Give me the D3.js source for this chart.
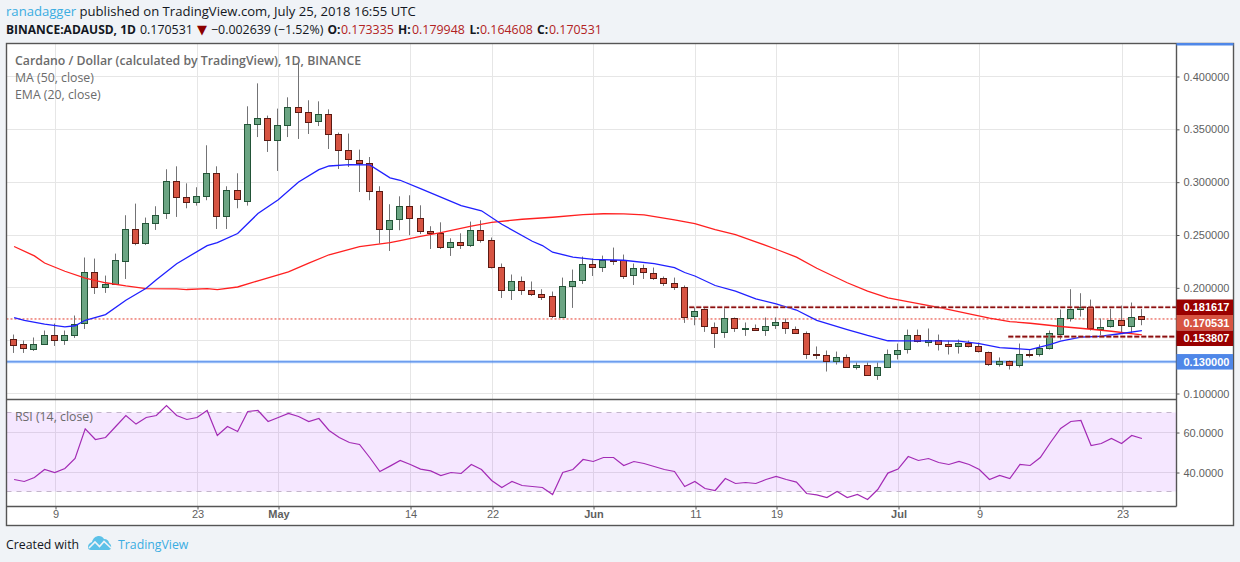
<!DOCTYPE html>
<html>
<head>
<meta charset="utf-8">
<title>ADAUSD</title>
<script src="https://cdn.jsdelivr.net/npm/d3@7"></script>
<style>
  html, body { margin: 0; padding: 0; background: #f0f3f7; }
  svg { display: block; }
  .head { font-family: "Open Sans", sans-serif; font-size: 13.1px; fill: #131722; }
  .foot { font-family: "Open Sans", sans-serif; font-size: 12.3px; fill: #131722; }
  .pane-text { font-family: "Open Sans", sans-serif; font-size: 12.3px; fill: #6b6b6b; }
  .axis text { font-family: "Liberation Sans", Arial, sans-serif; font-size: 11px; fill: #5f5f5f; }
  .axis line { stroke: #555; }
  .axis path { display: none; }
  .frame { stroke: #555; stroke-width: 1.4; fill: none; }
</style>
</head>
<body>
<svg id="chart" width="1240" height="562"></svg>
<script>
// OHLC, 5 Apr - 25 Jul 2018
const opens = [.1520,.1464,.1426,.1473,.1558,.1511,.1558,.1672,.2154,.2012,.2041,.2258,.2561,.2425,.2618,.2703,.3015,.2864,.2813,.2869,.3091,.2684,.2930,.2829,.3554,.3611,.3403,.3545,.3715,.3668,.3583,.3649,.3460,.3308,.3214,.3185,.2920,.2561,.2656,.2778,.2665,.2542,.2523,.2391,.2438,.2410,.2551,.2457,.2201,.1984,.2069,.1984,.1946,.1918,.1725,.2022,.2078,.2230,.2201,.2268,.2264,.2116,.2183,.2145,.2097,.2050,.2012,.1738,.1795,.1634,.1577,.1710,.1615,.1624,.1605,.1643,.1672,.1615,.1577,.1378,.1369,.1312,.1350,.1255,.1274,.1180,.1255,.1378,.1416,.1549,.1492,.1511,.1473,.1454,.1482,.1445,.1397,.1284,.1312,.1274,.1378,.1369,.1426,.1568,.1719,.1804,.1814,.1615,.1634,.1691,.1643,.1733];
const highs = [.1558,.1501,.1530,.1596,.1662,.1596,.1738,.2287,.2277,.2116,.2324,.2687,.2797,.2665,.2772,.3122,.3150,.2989,.2952,.3349,.3150,.2961,.3084,.3718,.3935,.3630,.3696,.3803,.4122,.3775,.3765,.3689,.3469,.3460,.3308,.3238,.2961,.2791,.2866,.2876,.2781,.2583,.2620,.2469,.2516,.2627,.2639,.2476,.2230,.2126,.2107,.2060,.1987,.1965,.2097,.2173,.2296,.2277,.2305,.2381,.2315,.2230,.2220,.2192,.2107,.2097,.2022,.1814,.1814,.1672,.1814,.1719,.1672,.1653,.1719,.1719,.1710,.1634,.1587,.1445,.1407,.1397,.1369,.1293,.1293,.1293,.1416,.1473,.1605,.1605,.1615,.1558,.1501,.1511,.1501,.1482,.1397,.1341,.1312,.1473,.1416,.1464,.1596,.1795,.1987,.1949,.1889,.1710,.1804,.1832,.1861,.1799];
const lows = [.1384,.1384,.1403,.1473,.1450,.1460,.1526,.1611,.1942,.1952,.2041,.2084,.2403,.2406,.2548,.2652,.2671,.2753,.2778,.2829,.2557,.2557,.2753,.2778,.3427,.3286,.3106,.3427,.3409,.3456,.3531,.3314,.3125,.3144,.2907,.2829,.2419,.2349,.2545,.2498,.2510,.2368,.2368,.2302,.2368,.2387,.2428,.2183,.1904,.1885,.1933,.1923,.1885,.1715,.1719,.1810,.2037,.2112,.2150,.2217,.2084,.2027,.2084,.2075,.2018,.1980,.1668,.1646,.1583,.1431,.1526,.1583,.1545,.1592,.1545,.1611,.1564,.1568,.1327,.1327,.1208,.1274,.1246,.1227,.1180,.1129,.1246,.1322,.1378,.1482,.1445,.1407,.1369,.1378,.1435,.1388,.1261,.1255,.1227,.1246,.1341,.1350,.1416,.1511,.1681,.1728,.1596,.1549,.1624,.1568,.1568,.1646];
const closes = [.1464,.1426,.1473,.1558,.1511,.1558,.1662,.2154,.2012,.2041,.2268,.2561,.2425,.2618,.2693,.3008,.2860,.2813,.2873,.3091,.2684,.2930,.2845,.3554,.3611,.3403,.3545,.3715,.3668,.3573,.3649,.3460,.3305,.3223,.3185,.2920,.2561,.2646,.2778,.2665,.2542,.2519,.2391,.2438,.2410,.2551,.2457,.2198,.1984,.2069,.1984,.1946,.1918,.1725,.2022,.2069,.2230,.2201,.2264,.2264,.2116,.2183,.2145,.2094,.2050,.2012,.1728,.1785,.1634,.1577,.1710,.1615,.1624,.1605,.1643,.1672,.1615,.1577,.1378,.1369,.1312,.1350,.1255,.1274,.1180,.1255,.1378,.1416,.1549,.1492,.1511,.1473,.1454,.1482,.1454,.1397,.1284,.1312,.1274,.1378,.1369,.1426,.1568,.1719,.1804,.1823,.1615,.1634,.1691,.1643,.1728,.1705];

// MA and EMA, read at the days where the line can be read (day = index from 5 Apr)
const maDays = [0,2,3,5,7,9,11,13,16,17,19,20,22,24,27,29,31,34,37,38,40,42,45,47,50,53,56,58,60,62,65,67,69,71,73,75,77,79,82,84,86,89,91,94,96,98,100,103,106,108,111];
const maValues = [.2391,.2302,.2235,.2157,.2091,.2048,.2018,.1993,.1990,.1984,.1993,.1984,.2008,.2067,.2152,.2233,.2313,.2391,.2428,.2447,.2488,.2523,.2583,.2620,.2649,.2668,.2693,.2701,.2699,.2691,.2644,.2608,.2551,.2504,.2436,.2365,.2291,.2185,.2048,.1968,.1906,.1850,.1814,.1753,.1714,.1681,.1665,.1634,.1608,.1589,.1554];
const emaDays = [0,1,3,5,6,7,9,11,13,14,16,19,20,22,24,26,28,30,31,33,35,37,38,40,43,44,46,48,51,52,53,55,57,60,63,65,66,67,69,71,73,75,77,79,82,84,86,87,91,93,95,97,100,102,103,105,107,109,111];
const emaValues = [.1719,.1691,.1656,.1630,.1641,.1693,.1747,.1883,.1996,.2077,.2228,.2400,.2428,.2514,.2703,.2833,.3002,.3119,.3153,.3166,.3163,.3041,.3018,.2939,.2819,.2778,.2729,.2602,.2441,.2400,.2337,.2291,.2270,.2261,.2230,.2192,.2145,.2112,.2022,.1968,.1895,.1848,.1790,.1693,.1605,.1549,.1499,.1498,.1498,.1495,.1473,.1435,.1416,.1466,.1495,.1533,.1542,.1568,.1596];

const rsiValues = [36.5,35.5,37.5,41.5,40,42,47,61.8,56.5,57.5,63,68.5,64.2,67.5,68.5,73.5,68.5,66.5,67.5,71,58.5,63,60.5,70.5,71,65.5,67.5,69.5,68,65.5,67,61,57.5,55,54,47.5,40.5,43.2,46,44,41.7,40.8,38.5,40,39.5,44,41.5,36,32.5,35.5,33.5,33,32.5,29,40,41.5,46.5,45.5,47.5,47.5,43.5,45.5,44.5,43,41.5,40.5,33,35.5,32,31,37,34.5,35,34.5,36.5,38,36.5,35.2,29.5,28.8,27.5,30.5,27.5,29,26.5,31.5,39.7,41.7,48,46,47,45,44,45.5,44,41.5,36.5,38.5,37,44,43.5,47.5,55,62,65.5,66,53.5,54.5,57,54.5,58.5,57];

const priceGrid = [0.1, 0.15, 0.2, 0.25, 0.3, 0.35, 0.4];
const priceLabels = [0.1, 0.2, 0.25, 0.3, 0.35, 0.4]; // 0.15 sits behind the level label
const rsiTicks = [40, 60];
const rsiBand = [70, 30.5];
const timeTickDays = [4, 18, 26, 39, 47, 57, 67, 75, 87, 95, 109];
const timeTickLabels = ["9", "23", "May", "14", "22", "Jun", "11", "19", "Jul", "9", "23"];
const boldLabels = ["May", "Jun", "Jul"];

const resistance = 0.181617;
const lastClose = 0.170531;
const support = 0.153807;
const floorLine = 0.13;
const resistanceStartDay = 66.5;
const supportStartDay = 97.9;

const upFill = "#6ba583", upBorder = "#225437";
const downFill = "#d75442", downBorder = "#5b1a13";
const wickColor = "#737375";
const darkRed = "#990000", blue = "#4f87e8";

const frameLeft = 6.5, frameRight = 1233.5, axisX = 1176.5, frameTop = 43.5, split = 399.5, timeY = 506.5, frameBottom = 525.5;

const svg = d3.select("#chart");

const firstDay = Date.UTC(2018, 3, 5);
const dayDate = (i) => new Date(firstDay + i * 864e5);

const x = d3.scaleUtc().domain([dayDate(0), dayDate(111)]).range([13.6, 1141.4]);
const y = d3.scaleLinear().domain([0.1, 0.4]).range([393.5, 76.5]);
const yRsi = d3.scaleLinear().domain([40, 60]).range([472.5, 432.5]);

const px = (i) => Math.floor(x(dayDate(i))) + 0.5;
const gridX = (i) => px(i) + 1;

// white panes
svg.append("rect").attr("x", frameLeft).attr("y", frameTop).attr("width", frameRight - frameLeft).attr("height", frameBottom - frameTop).attr("fill", "#fff");

// grid
const grid = svg.append("g").attr("stroke", "#e6e6e6").attr("shape-rendering", "crispEdges");
grid.selectAll(".vg").data(timeTickDays).enter().append("line")
  .attr("x1", gridX).attr("x2", gridX).attr("y1", frameTop).attr("y2", timeY);
grid.selectAll(".hg").data(priceGrid).enter().append("line")
  .attr("x1", frameLeft).attr("x2", axisX).attr("y1", (d) => y(d)).attr("y2", (d) => y(d));
grid.selectAll(".rg").data(rsiTicks).enter().append("line")
  .attr("x1", frameLeft).attr("x2", axisX).attr("y1", (d) => yRsi(d)).attr("y2", (d) => yRsi(d));

// rsi band
svg.append("rect")
  .attr("x", frameLeft).attr("width", axisX - frameLeft)
  .attr("y", yRsi(rsiBand[0])).attr("height", yRsi(rsiBand[1]) - yRsi(rsiBand[0]))
  .attr("fill", "#9915ff").attr("fill-opacity", 0.1);
svg.selectAll(".band").data(rsiBand).enter().append("line")
  .attr("x1", frameLeft).attr("x2", axisX).attr("y1", (d) => yRsi(d)).attr("y2", (d) => yRsi(d))
  .attr("stroke", "#c3b5ca").attr("stroke-dasharray", "5 5");

// horizontal levels under the candles
svg.append("line").attr("x1", frameLeft).attr("x2", axisX).attr("y1", y(floorLine)).attr("y2", y(floorLine))
  .attr("stroke", "#5b9cf6").attr("stroke-opacity", 0.45).attr("stroke-width", 3);
svg.append("line").attr("x1", frameLeft).attr("x2", axisX).attr("y1", y(floorLine)).attr("y2", y(floorLine))
  .attr("stroke", "#4f87e8").attr("stroke-width", 1);
svg.append("line").attr("x1", frameLeft).attr("x2", axisX).attr("y1", y(lastClose)).attr("y2", y(lastClose))
  .attr("stroke", "#e3392b").attr("stroke-dasharray", "2 2");

// candles
const days = d3.range(opens.length);
const candles = svg.append("g");
candles.selectAll(".wick").data(days).enter().append("line")
  .attr("x1", px).attr("x2", px)
  .attr("y1", (i) => y(highs[i])).attr("y2", (i) => y(lows[i]))
  .attr("stroke", wickColor);
candles.selectAll(".body").data(days).enter().append("rect")
  .attr("x", (i) => px(i) - 3)
  .attr("width", 6)
  .attr("y", (i) => Math.round(y(Math.max(opens[i], closes[i]))) + 0.5)
  .attr("height", (i) => Math.max(1, Math.round(Math.abs(y(opens[i]) - y(closes[i])))))
  .attr("fill", (i) => (closes[i] >= opens[i] ? upFill : downFill))
  .attr("stroke", (i) => (closes[i] >= opens[i] ? upBorder : downBorder))
  .attr("shape-rendering", "crispEdges");

// ma / ema
const line = d3.line().x((d) => x(dayDate(d[0])) + 0.5).y((d) => y(d[1]));
svg.append("path").datum(d3.zip(maDays, maValues)).attr("d", line)
  .attr("fill", "none").attr("stroke", "#ff2020").attr("stroke-width", 1.3);
svg.append("path").datum(d3.zip(emaDays, emaValues)).attr("d", line)
  .attr("fill", "none").attr("stroke", "#2020ff").attr("stroke-width", 1.3);

// dashed resistance / support over the candles
[[resistance, resistanceStartDay], [support, supportStartDay]].forEach(([v, start]) => {
  const x0 = x(dayDate(start));
  svg.append("line").attr("x1", x0).attr("x2", axisX).attr("y1", y(v)).attr("y2", y(v))
    .attr("stroke", "#d79a9a").attr("stroke-width", 3).attr("stroke-dasharray", "5 2").attr("stroke-opacity", 0.6);
  svg.append("line").attr("x1", x0).attr("x2", axisX).attr("y1", y(v)).attr("y2", y(v))
    .attr("stroke", "#8b1010").attr("stroke-width", 1.6).attr("stroke-dasharray", "5 2");
});

// rsi line
svg.append("path").datum(rsiValues)
  .attr("d", d3.line().x((d, i) => x(dayDate(i)) + 0.5).y((d) => yRsi(d)))
  .attr("fill", "none").attr("stroke", "#a32bb5").attr("stroke-width", 1.2);

// axes
svg.append("g").attr("class", "axis")
  .attr("transform", `translate(${axisX},0)`)
  .call(d3.axisRight(y).tickValues(priceLabels).tickFormat(d3.format(".6f")).tickSize(3).tickPadding(4));
svg.append("g").attr("class", "axis")
  .attr("transform", `translate(${axisX},0)`)
  .call(d3.axisRight(yRsi).tickValues(rsiTicks).tickFormat(d3.format(".4f")).tickSize(3).tickPadding(4));
const timeAxis = svg.append("g").attr("class", "axis")
  .attr("transform", `translate(0,${timeY})`)
  .call(d3.axisBottom(d3.scaleOrdinal().domain(timeTickDays).range(timeTickDays.map(gridX)))
    .tickFormat((d, i) => timeTickLabels[i]).tickSize(3).tickPadding(1));
timeAxis.selectAll("text")
  .style("font-weight", (d, i) => (boldLabels.includes(timeTickLabels[i]) ? "bold" : "normal"));

// frame
svg.append("rect").attr("class", "frame").attr("x", frameLeft).attr("y", frameTop).attr("width", frameRight - frameLeft).attr("height", frameBottom - frameTop);
[[axisX, frameTop, axisX, timeY], [frameLeft, split, axisX, split], [frameLeft, timeY, axisX, timeY]].forEach((l) => {
  svg.append("line").attr("class", "frame").attr("x1", l[0]).attr("y1", l[1]).attr("x2", l[2]).attr("y2", l[3]);
});
svg.append("rect").attr("x", axisX).attr("y", 43).attr("width", frameRight - axisX).attr("height", 2.5).attr("fill", blue);

// price labels, pushed down when they would overlap
const labelH = 15.5;
const labels = [
  { v: resistance, fill: darkRed },
  { v: lastClose, fill: downFill },
  { v: support, fill: darkRed },
  { v: floorLine, fill: blue }
];
let lastBottom = -Infinity;
labels.forEach((l) => {
  const c = Math.max(y(l.v), lastBottom + labelH / 2);
  lastBottom = c + labelH / 2;
  svg.append("rect").attr("x", axisX).attr("y", c - labelH / 2).attr("width", frameRight - axisX - 0.5).attr("height", labelH).attr("fill", l.fill);
  svg.append("text").attr("x", 1183.5).attr("y", c + 4)
    .attr("font-family", '"Liberation Sans", Arial, sans-serif').attr("font-size", 11).attr("font-weight", "bold")
    .attr("fill", "#fff").text(d3.format(".6f")(l.v));
});

// header
const h1 = svg.append("text").attr("class", "head").attr("x", 6).attr("y", 16);
h1.append("tspan").style("fill", "#3bade2").text("ranadagger");
h1.append("tspan").text(" published on TradingView.com, July 25, 2018 16:55 UTC");

const h2 = svg.append("text").attr("class", "head").attr("y", 33.5);
const priceRed = "#b22222";
const h2Parts = [
  ["BINANCE:ADAUSD, 1D", "bold", null, 6],
  ["0.170531", "normal", null, 140],
  ["▼", "normal", "#8b0000", 197],
  ["−0.002639 (−1.52%)", "normal", null, 211],
  ["O:", "bold", null, 327.5], ["0.173335", "normal", priceRed, 341],
  ["H:", "bold", null, 398], ["0.179948", "normal", priceRed, 412],
  ["L:", "bold", null, 469.5], ["0.164608", "normal", priceRed, 480],
  ["C:", "bold", null, 537], ["0.170531", "normal", priceRed, 549]
];
h2Parts.forEach((s) => {
  const t = h2.append("tspan").attr("x", s[3]).style("font-weight", s[1])
    .style("font-size", s[1] === "bold" ? "12px" : "12.4px").text(s[0]);
  if (s[2]) t.style("fill", s[2]);
  if (s[0] === "▼") t.style("font-family", "DejaVu Sans").style("font-size", "13px");
});

// pane legends
const paneLines = [
  ["Cardano / Dollar (calculated by TradingView), 1D, BINANCE", 15, 65, "600"],
  ["MA (50, close)", 15, 82, "400"],
  ["EMA (20, close)", 15, 99, "400"],
  ["RSI (14, close)", 15, 421, "400"]
];
paneLines.forEach((p) => {
  svg.append("text").attr("class", "pane-text").attr("x", p[1]).attr("y", p[2]).style("font-weight", p[3]).text(p[0]);
});

// footer
svg.append("text").attr("class", "foot").attr("x", 6).attr("y", 548.5).text("Created with");
svg.append("text").attr("class", "foot").attr("x", 118).attr("y", 548.5).style("fill", "#3bade2").text("TradingView");
const logo = svg.append("g").attr("transform", "translate(88,535)");
logo.append("path").attr("fill", "#5cc1e8")
  .attr("d", "M0 12 C0 9 2 8 4 7 C5 3 8 1 11 1 C13 1 15 2 16 4 C19 4 21 6 21 8 C23 9 23.5 11 23 13 C22.5 15 21 15 20 15 L3 15 C1 15 0 14 0 12 Z");
logo.append("path").attr("fill", "none").attr("stroke", "#f0f3f7").attr("stroke-width", 1.6)
  .attr("d", "M1 13 L7 7 L11.5 11.5 L16 6.5 L23 13");
</script>
</body>
</html>
